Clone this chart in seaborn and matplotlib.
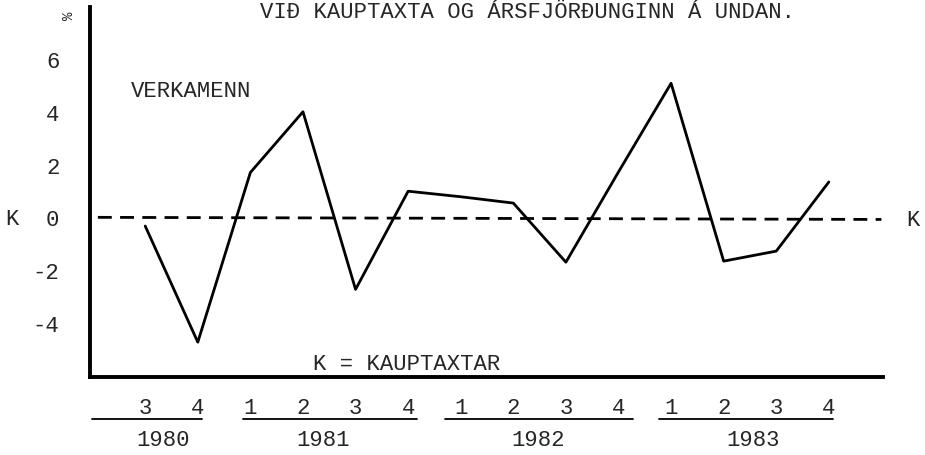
import matplotlib
matplotlib.use("Agg")
import matplotlib.pyplot as plt
import seaborn as sns
import pandas as pd

# Data
quarters = ["3", "4", "1", "2", "3", "4", "1", "2", "3", "4", "1", "2", "3", "4"]
values = [-0.33, -4.73, 1.7, 4.0, -2.73, 0.99, 0.78, 0.54, -1.7, 1.72, 5.08, -1.66, -1.28, 1.34]
years = ["1980", "1981", "1982", "1983"]
year_spans = [(-0.01, 2.08), (2.86, 6.17), (6.70, 10.28), (10.77, 14.08)]
year_label_x = [1.34, 4.38, 8.47, 12.56]
y_ticks = [-4, -2, 0, 2, 4, 6]

title = "VIÐ KAUPTAXTA OG ÁRSFJÖRÐUNGINN Á UNDAN."
series_label = "VERKAMENN"
ref_label = "K = KAUPTAXTAR"

sns.set_style("white")
plt.rcParams['font.family'] = ['Liberation Mono', 'DejaVu Sans Mono']

FS = 16

df = pd.DataFrame({"x": list(range(1, len(values) + 1)), "value": values})

fig = plt.figure(figsize=(9.25, 4.56), dpi=100)
ax = fig.add_axes([90 / 925, 1 - 378 / 456, (883 - 90) / 925, (378 - 8) / 456])

sns.lineplot(data=df, x="x", y="value", ax=ax, color="black", linewidth=2.0)
ax.plot([0.1, 15.0], [0, -0.08], color="black", linewidth=2.0,
        linestyle=(0, (5, 3)))

ax.set_xlim(-0.05, 15.03)
ax.set_ylim(-6.05, 7.97)

for s in ["top", "right"]:
    ax.spines[s].set_visible(False)
for s in ["left", "bottom"]:
    ax.spines[s].set_linewidth(2.8)
    ax.spines[s].set_color("black")

ax.set_xticks(list(range(1, 16)))
ax.set_xticklabels([])
ax.set_yticks(y_ticks)
ax.set_yticklabels([str(v) if v >= 0 else "-" + str(-v) for v in y_ticks])
ax.tick_params(axis="x", direction="out", length=6, width=3, color="black")
ax.tick_params(axis="y", direction="out", length=5, width=3, color="black",
               labelsize=FS, pad=17)
ax.set_xlabel("")
ax.set_ylabel("")

# quarter labels
for i, q in enumerate(quarters):
    ax.text(i + 1, -7.2, q, ha="center", va="center", fontsize=FS,
            clip_on=False)

# year underlines and labels
for (a, b), yx, yr in zip(year_spans, year_label_x, years):
    ax.plot([a, b], [-7.65, -7.65], color="black", linewidth=1.3,
            clip_on=False)
    ax.text(yx, -8.4, yr, ha="center", va="center", fontsize=FS,
            clip_on=False)

# annotations
ax.text(0.72, 4.8, series_label, ha="left", va="center", fontsize=FS)
ax.text(4.2, -5.55, ref_label, ha="left", va="center", fontsize=FS)

fig.text(12 / 925, 1 - 220 / 456, "K", ha="center", va="center", fontsize=FS)
fig.text(913 / 925, 1 - 221 / 456, "K", ha="center", va="center", fontsize=FS)
fig.text(528 / 925, 1 - 13 / 456, title, ha="center", va="center", fontsize=FS)
fig.text(69 / 925, 1 - 16 / 456, "%", ha="center", va="center", fontsize=10,
         rotation=90)

fig.savefig("out.png", dpi=100)
